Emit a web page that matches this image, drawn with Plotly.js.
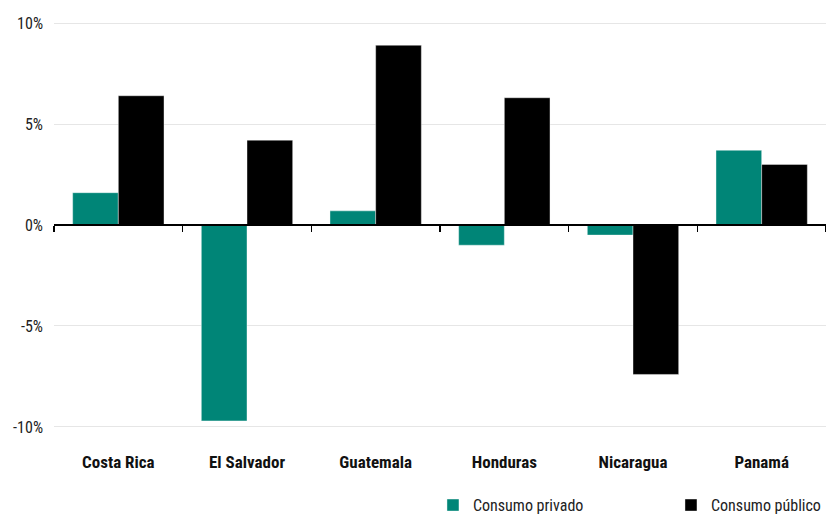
<!DOCTYPE html>
<html>
<head>
<meta charset="utf-8">
<script src="https://cdn.plot.ly/plotly-3.0.1.min.js"></script>
<style>html,body{margin:0;padding:0;background:#fff;}#chart{width:826px;height:514px;}</style>
</head>
<body>
<div id="chart"></div>
<script>
const categories = ["Costa Rica", "El Salvador", "Guatemala", "Honduras", "Nicaragua", "Panamá"];
const seriesNames = ["Consumo privado", "Consumo público"];
const consumoPrivado = [1.6, -9.7, 0.7, -1.0, -0.5, 3.7];
const consumoPublico = [6.4, 4.2, 8.9, 6.3, -7.4, 3.0];
const yTickVals = [-10, -5, 0, 5, 10];
const yTickText = ["-10%", "-5%", "0%", "5%", "10%"];

const FONT = '"Roboto Condensed", "Open Sans", sans-serif';
const TEAL = '#008577';

const traces = [
  {
    type: 'bar', name: seriesNames[0], x: categories, y: consumoPrivado,
    marker: {color: TEAL, line: {color: 'rgba(255,255,255,0.4)', width: 1}},
    hoverinfo: 'x+y', legend: 'legend'
  },
  {
    type: 'bar', name: seriesNames[1], x: categories, y: consumoPublico,
    marker: {color: '#000000', line: {color: 'rgba(255,255,255,0.4)', width: 1}},
    hoverinfo: 'x+y', legend: 'legend2'
  },
  {
    type: 'scatter', mode: 'none', x: categories, y: categories.map(() => 0),
    xaxis: 'x2', yaxis: 'y', showlegend: false, hoverinfo: 'skip'
  }
];

const legendFont = {family: FONT, size: 16, color: '#222'};

const layout = {
  width: 826, height: 514,
  margin: {l: 54, r: 0, t: 19, b: 83, autoexpand: false},
  paper_bgcolor: '#fff', plot_bgcolor: '#fff',
  font: {family: FONT, color: '#222', size: 16},
  barmode: 'group', bargap: 0.29, bargroupgap: 0,
  xaxis: {
    type: 'category', range: [-0.5, 5.5],
    showline: false, ticks: '', showgrid: false, zeroline: false,
    tickfont: {family: FONT, size: 17, color: '#111', weight: 'bold'},
    ticklabelstandoff: 19
  },
  xaxis2: {
    type: 'category', range: [-0.5, 5.5], overlaying: 'x', anchor: 'free', position: 0.5,
    showline: true, linecolor: '#000', linewidth: 2,
    ticks: 'outside', tickson: 'boundaries', ticklen: 6, tickwidth: 1.5, tickcolor: '#000',
    showticklabels: false, showgrid: false, zeroline: false
  },
  yaxis: {
    range: [-10.2, 10.2], tickvals: yTickVals, ticktext: yTickText,
    showgrid: true, gridcolor: '#e6e6e6', gridwidth: 1,
    zeroline: false, showline: false, ticks: '',
    tickfont: {family: FONT, size: 16, color: '#222'},
    ticklabelstandoff: 10
  },
  legend: {
    orientation: 'h', x: 0.4909, xanchor: 'left', y: -0.18, yanchor: 'middle',
    font: legendFont
  },
  legend2: {
    orientation: 'h', x: 0.7992, xanchor: 'left', y: -0.18, yanchor: 'middle',
    font: legendFont
  },
  showlegend: true
};

Plotly.newPlot('chart', traces, layout, {displayModeBar: false, staticPlot: true});
</script>
</body>
</html>
